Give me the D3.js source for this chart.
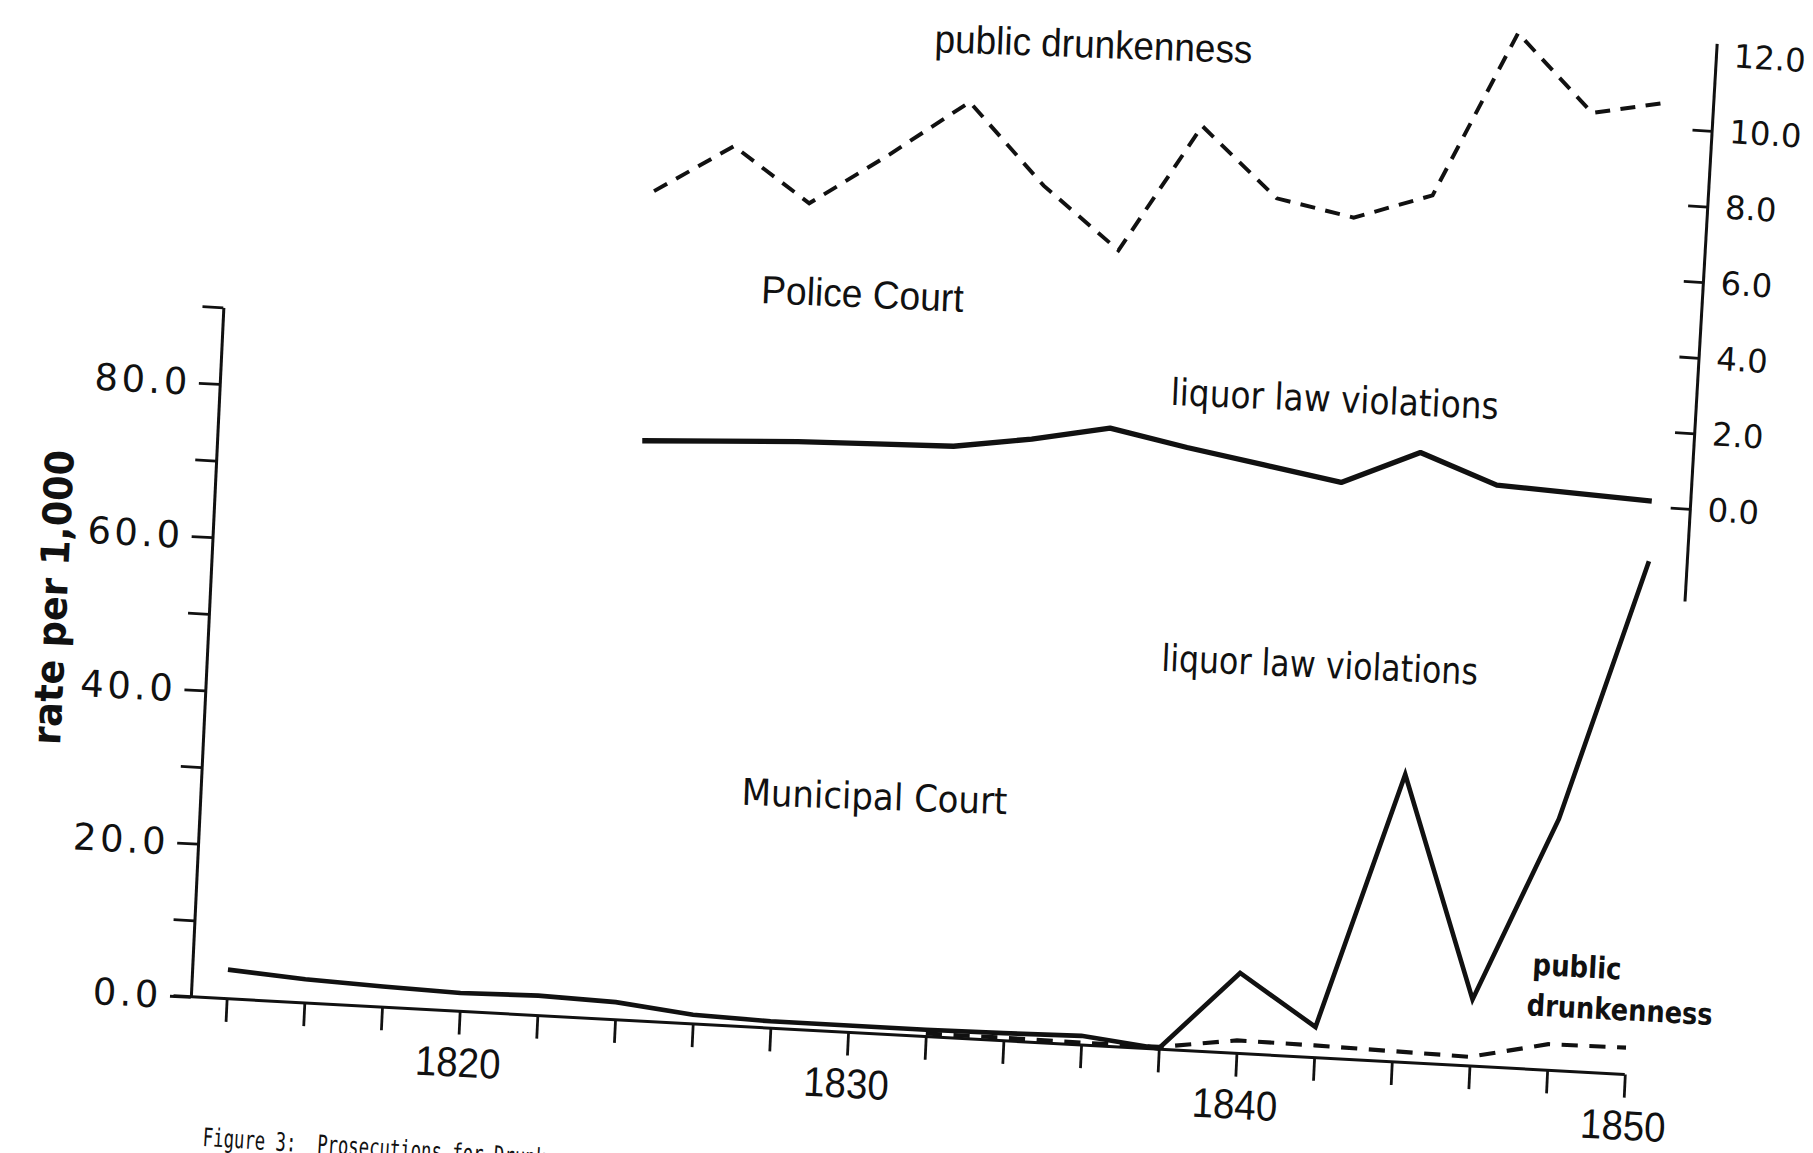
<!DOCTYPE html>
<html>
<head>
<meta charset="utf-8">
<script src="https://cdn.jsdelivr.net/npm/d3@7"></script>
<style>
  body { margin: 0; background: #fff; }
</style>
</head>
<body>
<div id="chart"></div>
<script>
// Municipal Court (left axis), rate per 1,000
const muniYears = [1814, 1816, 1818, 1820, 1822, 1824, 1826, 1828, 1830, 1832, 1834, 1836, 1838, 1840, 1842, 1844, 1846, 1848, 1850];
const muniLiquor = [3.8, 3.1, 2.7, 2.4, 2.6, 2.3, 1.2, 0.9, 0.9, 0.9, 1.0, 1.2, 0.1, 10.5, 4.0, 37.5, 8.7, 32.8, 67.0];
const muniDrunkYears = [1832, 1834, 1836, 1838, 1840, 1842, 1844, 1846, 1848, 1850];
const muniDrunk = [0.4, 0.4, 0.3, 0.3, 1.7, 1.6, 1.4, 1.2, 3.4, 3.5];

// Police Court (right axis)
const policeYears = [1824, 1826, 1828, 1830, 1832, 1834, 1836, 1838, 1840, 1842, 1844, 1846, 1848, 1850];
const policeDrunk = [6.9, 8.2, 6.8, 8.2, 9.7, 7.6, 6.0, 9.4, 7.6, 7.2, 7.9, 12.3, 10.3, 10.7];
const policeLiquor = [0.3, 0.4, 0.5, 0.55, 0.6, 0.9, 1.3, 0.9, 0.55, 0.2, 1.1, 0.35, 0.25, 0.15];

// ticks
const xTicks = [1814, 1816, 1818, 1820, 1822, 1824, 1826, 1828, 1830, 1832, 1834, 1836, 1838, 1840, 1842, 1844, 1846, 1848, 1850];
const xLabels = [1820, 1830, 1840, 1850];
const leftTicks = [0, 10, 20, 30, 40, 50, 60, 70, 80, 90];
const leftLabels = [0, 20, 40, 60, 80];
const rightTicks = [0, 2, 4, 6, 8, 10, 12];

const W = 1568, H = 997;
const ink = "#111";

const svg = d3.select("#chart").append("svg")
    .attr("width", 1813)
    .attr("height", 1153)
    .attr("viewBox", `0 0 ${W} ${H}`);

svg.append("rect").attr("width", W).attr("height", H).attr("fill", "#fff");

// the scanned page is slightly turned, so the plot frame is too
const deg = Math.PI / 180;
const ax = 3.1 * deg, ay = 2.7 * deg;
const plot = svg.append("g")
    .attr("transform", `matrix(${Math.cos(ax)},${Math.sin(ax)},${-Math.sin(ay)},${Math.cos(ay)},165,862)`);

// Scales
const x = d3.scaleLinear().domain([1814, 1850]).range([31, 1242]);
const yMuni = d3.scaleLinear().domain([0, 90]).range([0, -597]);
const yPolice = d3.scaleLinear().domain([0, 12]).range([-491.5, -884.5]);

// Left axis
const leftAxis = plot.append("g")
    .call(d3.axisLeft(yMuni)
        .tickValues(leftTicks)
        .tickSize(18)
        .tickPadding(7)
        .tickSizeOuter(0)
        .tickFormat(d => leftLabels.includes(d) ? d.toFixed(1) : ""));
leftAxis.select(".domain").attr("stroke", ink).attr("stroke-width", 2.6);
leftAxis.selectAll(".tick line").attr("stroke", ink).attr("stroke-width", 2.4);
leftAxis.selectAll("text")
    .attr("fill", ink)
    .attr("font-family", "DejaVu Sans")
    .attr("font-size", 32)
    .attr("letter-spacing", 3);

// Bottom axis
const bottomAxis = plot.append("g")
    .call(d3.axisBottom(x)
        .tickValues(xTicks)
        .tickSize(20)
        .tickPadding(11)
        .tickFormat(d => xLabels.includes(d) ? d : ""));
bottomAxis.select(".domain").remove();
bottomAxis.selectAll(".tick line").attr("stroke", ink).attr("stroke-width", 2.4);
bottomAxis.selectAll("text")
    .attr("fill", ink)
    .attr("font-family", "'Liberation Sans', sans-serif")
    .attr("font-size", 36)
    .filter(d => xLabels.includes(d))
    .attr("textLength", 74)
    .attr("lengthAdjust", "spacingAndGlyphs");
plot.append("line")
    .attr("x1", x(1814) - 46).attr("x2", x(1850))
    .attr("y1", yMuni(0)).attr("y2", yMuni(0))
    .attr("stroke", ink).attr("stroke-width", 2.6);

// Right axis (Police Court), a touch more tilted on the page
const rightAxis = plot.append("g")
    .attr("transform", `translate(${x(1851)},${yPolice(0)}) rotate(0.6) translate(0,${-yPolice(0)})`)
    .call(d3.axisRight(yPolice)
        .tickValues(rightTicks)
        .tickSize(-17)
        .tickPadding(15)
        .tickFormat(d => d.toFixed(1)));
rightAxis.select(".domain").remove();
rightAxis.selectAll(".tick").filter(d => d === 12).select("line").remove();
rightAxis.selectAll(".tick line").attr("stroke", ink).attr("stroke-width", 2.4);
rightAxis.selectAll("text")
    .attr("fill", ink)
    .attr("font-family", "DejaVu Sans")
    .attr("font-size", 28);
rightAxis.append("line")
    .attr("y1", yPolice(-2.45)).attr("y2", yPolice(12.3))
    .attr("stroke", ink).attr("stroke-width", 2.6);

// Lines
const pairs = (xs, ys) => xs.map((d, i) => [d, ys[i]]);
const lineMuni = d3.line().x(d => x(d[0])).y(d => yMuni(d[1]));
const linePolice = d3.line().x(d => x(d[0])).y(d => yPolice(d[1]));

plot.append("path")
    .attr("d", lineMuni(pairs(muniDrunkYears, muniDrunk)))
    .attr("fill", "none").attr("stroke", ink)
    .attr("stroke-width", 3.6).attr("stroke-dasharray", "14,10");

plot.append("path")
    .attr("d", lineMuni(pairs(muniYears, muniLiquor)))
    .attr("fill", "none").attr("stroke", ink)
    .attr("stroke-width", 4).attr("stroke-linejoin", "miter");

plot.append("path")
    .attr("d", linePolice(pairs(policeYears, policeDrunk)))
    .attr("fill", "none").attr("stroke", ink)
    .attr("stroke-width", 3.4).attr("stroke-dasharray", "13,9");

plot.append("path")
    .attr("d", linePolice(pairs(policeYears, policeLiquor)))
    .attr("fill", "none").attr("stroke", ink)
    .attr("stroke-width", 4.6).attr("stroke-linejoin", "round");

// Labels
const narrow = "'Liberation Sans', sans-serif";
const round = "'DejaVu Sans', sans-serif";
const labels = [
    { text: "public drunkenness", x: 808, y: 45, r: 2, font: narrow, size: 34, len: 275, weight: "normal" },
    { text: "Police Court", x: 658, y: 262, r: 2.5, font: narrow, size: 34, len: 175, weight: "normal" },
    { text: "liquor law violations", x: 1012, y: 350, r: 2.5, font: round, size: 32, len: 284, weight: "normal" },
    { text: "liquor law violations", x: 1004, y: 580, r: 2.5, font: round, size: 32, len: 274, weight: "normal" },
    { text: "Municipal Court", x: 641, y: 696, r: 2, font: round, size: 32, len: 230, weight: "normal" },
    { text: "public", x: 1325, y: 843, r: 3, font: round, size: 26, len: 77, weight: "bold" },
    { text: "drunkenness", x: 1320, y: 878, r: 3, font: round, size: 26, len: 161, weight: "bold" }
];

svg.selectAll("text.note")
    .data(labels)
    .enter()
    .append("text")
    .attr("class", "note")
    .attr("transform", d => `translate(${d.x},${d.y}) rotate(${d.r})`)
    .attr("font-family", d => d.font)
    .attr("font-size", d => d.size)
    .attr("font-weight", d => d.weight)
    .attr("textLength", d => d.len)
    .attr("lengthAdjust", "spacingAndGlyphs")
    .attr("fill", ink)
    .text(d => d.text);

// Y axis title
svg.append("text")
    .attr("transform", "translate(58,517) rotate(-87.3)")
    .attr("text-anchor", "middle")
    .attr("font-family", round)
    .attr("font-weight", "bold")
    .attr("font-size", 34)
    .attr("textLength", 255)
    .attr("lengthAdjust", "spacingAndGlyphs")
    .attr("fill", ink)
    .text("rate per 1,000");

// Caption (runs off the bottom of the page, as in the scan)
svg.append("text")
    .attr("transform", "translate(175,991) rotate(3.5) scale(0.68,1)")
    .attr("font-family", "'DejaVu Sans Mono', monospace")
    .attr("font-size", 22)
    .attr("fill", ink)
    .style("white-space", "pre")
    .text("Figure 3:  Prosecutions for Drunkenness");
</script>
</body>
</html>
